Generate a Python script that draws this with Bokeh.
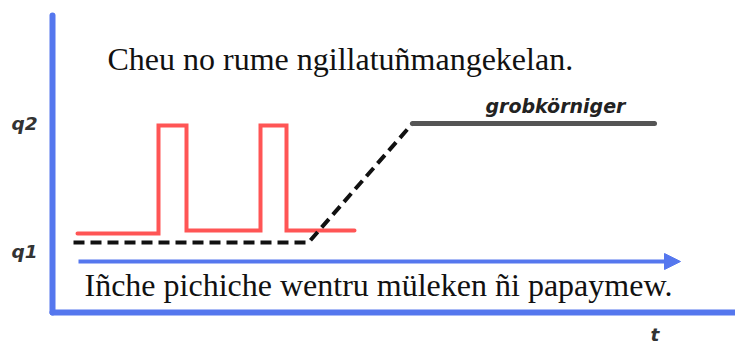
from bokeh.plotting import figure
from bokeh.models import Range1d, Arrow, NormalHead
from bokeh.core.properties import value
from bokeh.embed import file_html
from bokeh.resources import INLINE

# ---- data (time units along t axis, value units along q axis) ----
q_ticks = [61, 189]
q_labels = ["q1", "q2"]

red_t = [25, 106, 106, 134, 134, 208, 208, 234, 234, 302]
red_q = [79, 79, 187, 187, 82, 82, 187, 187, 82, 82]

dash_t = [21, 256, 360]
dash_q = [70, 70, 189]

solid_t = [360, 602]
solid_q = [189, 189]

arrow_t = [26, 628]
arrow_q = 51

t_axis_end = 700
q_axis_end = 297

top_text = "Cheu no rume ngillatuñmangekelan."
bottom_text = "Iñche pichiche wentru müleken ñi papaymew."
series_label = "grobkörniger"
t_label = "t"

BLUE = "#5577ee"
RED = "#ff5555"

p = figure(width=735, height=347, output_backend="svg", toolbar_location=None,
           x_range=Range1d(-52, 683), y_range=Range1d(-35, 312),
           x_axis_type=None, y_axis_type=None,
           min_border=0)
p.outline_line_color = None
p.background_fill_color = "white"
p.border_fill_color = "white"

# axes drawn at the data origin (t = 0, q = 0)
p.line([0, 0], [0, q_axis_end], line_color=BLUE, line_width=6, line_cap="round")
p.line([0, t_axis_end], [0, 0], line_color=BLUE, line_width=6, line_cap="round")

# q level labels
p.text(x=[-15] * len(q_ticks), y=q_ticks, text=q_labels, text_font=value("DejaVu Sans"),
       text_font_style="bold italic", text_font_size="18.5px", text_color="#333333",
       text_align="right", text_baseline="middle")

p.line(red_t, red_q, line_color=RED, line_width=4, line_cap="round", line_join="miter")
p.line(dash_t, dash_q, line_color="#111111", line_width=4, line_dash="11 6")
p.line(solid_t, solid_q, line_color="#555555", line_width=5, line_cap="round")

p.add_layout(Arrow(end=NormalHead(size=16, fill_color=BLUE, line_color=BLUE),
                   x_start=arrow_t[0], y_start=arrow_q, x_end=arrow_t[1], y_end=arrow_q,
                   line_color=BLUE, line_width=4))

p.text(x=[55], y=[254], text=[top_text], text_font=value("Liberation Serif"),
       text_font_size="32px", text_color="#111111", text_baseline="alphabetic")
p.text(x=[32], y=[28], text=[bottom_text], text_font=value("Liberation Serif"),
       text_font_size="32px", text_color="#111111", text_baseline="alphabetic")
p.text(x=[433], y=[207], text=[series_label], text_font=value("DejaVu Sans"),
       text_font_style="bold italic", text_font_size="19px", text_color="#222222",
       text_baseline="alphabetic")
p.text(x=[598], y=[-22], text=[t_label], text_font=value("DejaVu Sans"),
       text_font_style="bold italic", text_font_size="18.5px", text_color="#333333",
       text_baseline="alphabetic")

open("out.html", "w").write(file_html(p, INLINE))
